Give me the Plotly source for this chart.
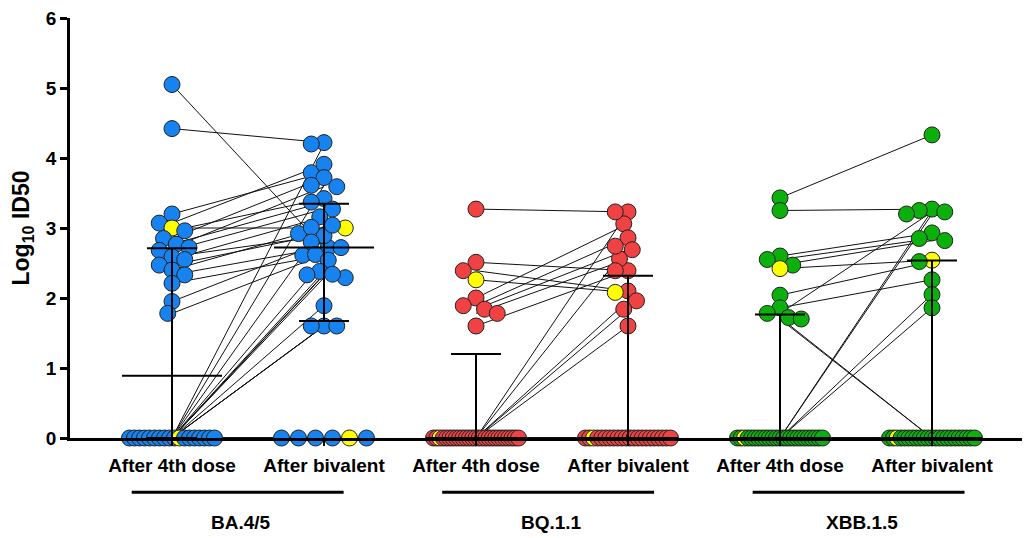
import math
import plotly.graph_objects as go

# ---------------- data ----------------
variants = ["BA.4/5", "BQ.1.1", "XBB.1.5"]
timepoints = ["After 4th dose", "After bivalent"]

# paired log10 ID50 values (same index = same participant)
ba45_4th = [5.05, 4.42, 3.20, 3.07, 3.00, 2.96, 2.85, 2.77, 2.72, 2.68, 2.59, 2.55,
            2.47, 2.40, 2.33, 2.21, 1.95, 1.78,
            0, 0, 0, 0, 0, 0, 0, 0, 0, 0, 0, 0, 0, 0, 0, 0, 0, 0]
ba45_biv = [2.72, 4.22, 3.79, 3.91, 3.00, 3.42, 3.72, 3.37, 3.59, 3.27, 2.89, 3.16,
            2.92, 3.01, 2.72, 2.61, 2.80, 2.62,
            4.20, 3.61, 3.04, 2.54, 2.38, 2.29, 0, 0, 0, 0, 0, 0,
            2.33, 2.34, 1.89, 1.60, 1.60, 1.60]
ba45_highlight = [4, 28]

bq11_4th = [3.27, 2.51, 2.39, 2.26, 2.00, 1.89, 1.84, 1.78, 1.60,
            0, 0, 0, 0, 0, 0, 0, 0, 0, 0, 0, 0, 0, 0, 0, 0, 0, 0,
            0, 0, 0, 0, 0, 0, 0, 0, 0]
bq11_biv = [3.23, 2.39, 2.10, 2.08, 3.06, 2.86, 2.69, 2.56, 2.39,
            0, 0, 0, 0, 0, 0, 0, 0, 0, 0, 0, 0, 0, 0, 0, 0, 0, 0,
            0, 0, 0, 0, 3.23, 2.74, 1.96, 1.84, 1.60]
bq11_highlight = [3, 11]

xbb15_4th = [3.43, 3.25, 2.60, 2.55, 2.47, 2.42, 2.04, 1.86, 1.78, 1.72, 1.70,
             0, 0, 0, 0, 0, 0, 0, 0, 0, 0, 0, 0, 0, 0, 0, 0, 0, 0,
             0, 0, 0, 0, 0, 0, 0]
xbb15_biv = [4.33, 3.27, 2.93, 2.85, 2.82, 2.54, 2.52, 2.26, 3.23, 0, 0,
             3.25, 3.20, 0, 2.05, 1.86,
             0, 0, 0, 0, 0, 0, 0, 0, 0, 0, 0, 0, 0, 0, 0, 0, 0, 0, 0, 0]
xbb15_highlight = [5, 13]

y_ticks = [0, 1, 2, 3, 4, 5, 6]
y_title = "Log<sub>10</sub> ID50"

groups = [
    (ba45_4th, ba45_biv, ba45_highlight),
    (bq11_4th, bq11_biv, bq11_highlight),
    (xbb15_4th, xbb15_biv, xbb15_highlight),
]

# ---------------- style / layout ----------------
W, H = 1025, 538
M_L, M_R, M_T, M_B = 70, 3, 18, 100
PX_X = 152.0          # pixels per category step
PX_Y = (H - M_T - M_B) / 6.0
X0_PX = 172.0         # pixel position of first category
x_min = (M_L - X0_PX) / PX_X
x_max = (W - M_R - X0_PX) / PX_X

colors = ["#1683F0", "#F04242", "#0CB00C"]
highlight_color = "#FFFF00"
DIAM = 16
STEP = 17.0
MIN_SEP = 12.5
HALF_W = 42.5
FONT = "Arial, Liberation Sans, sans-serif"


def gp_quantile(vals, p):
    s = sorted(vals)
    n = len(s)
    pos = p * (n + 1)
    if pos <= 1:
        return s[0]
    if pos >= n:
        return s[-1]
    k = int(math.floor(pos))
    f = pos - k
    return s[k - 1] + f * (s[k] - s[k - 1])


def swarm(vals):
    """Return x offsets (data units) for a compact beeswarm layout."""
    n = len(vals)
    offs = [0.0] * n
    zeros = [i for i, v in enumerate(vals) if v == 0]
    nz = len(zeros)
    if nz:
        if (nz - 1) * STEP <= 2 * HALF_W:
            pos = [(k - (nz - 1) / 2) * STEP for k in range(nz)]
        else:
            pos = [-HALF_W + k * (2 * HALF_W) / (nz - 1) for k in range(nz)]
        for i, p in zip(zeros, pos):
            offs[i] = p
    others = sorted([i for i, v in enumerate(vals) if v != 0], key=lambda i: -vals[i])
    cands = sorted([k * 4.25 for k in range(-10, 11)], key=lambda c: (abs(c), c))
    placed = []
    for i in others:
        y = vals[i] * PX_Y
        best, best_d = None, -1
        for c in cands:
            md = min([math.hypot(c - px, y - py) for px, py in placed] or [1e9])
            if md >= MIN_SEP:
                best = c
                break
            if md > best_d:
                best_d, best = md, c
        offs[i] = best
        placed.append((best, y))
    return [o / PX_X for o in offs]


fig = go.Figure()

# connecting lines
for g, (pre, post, hl) in enumerate(groups):
    xa, xb = 2 * g, 2 * g + 1
    lx, ly = [], []
    for a, b in zip(pre, post):
        lx += [xa, xb, None]
        ly += [a, b, None]
    fig.add_trace(go.Scatter(x=lx, y=ly, mode="lines",
                             line=dict(color="#111111", width=1),
                             hoverinfo="skip", showlegend=False, cliponaxis=False))

# points
for g, (pre, post, hl) in enumerate(groups):
    for t, vals in enumerate([pre, post]):
        xc = 2 * g + t
        offs = swarm(vals)
        cols = [highlight_color if i in hl else colors[g] for i in range(len(vals))]
        fig.add_trace(go.Scatter(
            x=[xc + o for o in offs], y=vals, mode="markers",
            marker=dict(size=DIAM, color=cols, line=dict(color="#222222", width=1)),
            showlegend=False, cliponaxis=False, hoverinfo="y"))

# median + interquartile range
MED_HW = 50 / PX_X
CAP_HW = 25 / PX_X
for g, (pre, post, hl) in enumerate(groups):
    for t, vals in enumerate([pre, post]):
        xc = 2 * g + t
        q1 = gp_quantile(vals, 0.25)
        md = gp_quantile(vals, 0.5)
        q3 = gp_quantile(vals, 0.75)
        ex = [xc - MED_HW, xc + MED_HW, None, xc, xc, None,
              xc - CAP_HW, xc + CAP_HW, None, xc - CAP_HW, xc + CAP_HW]
        ey = [md, md, None, q1, q3, None, q1, q1, None, q3, q3]
        fig.add_trace(go.Scatter(x=ex, y=ey, mode="lines",
                                 line=dict(color="black", width=2),
                                 hoverinfo="skip", showlegend=False, cliponaxis=False))

# group bars and labels
BAR_HW = 0.697
for g, name in enumerate(variants):
    cx = 0.432 + 2.0425 * g
    fig.add_shape(type="line", xref="x", yref="paper",
                  x0=cx - BAR_HW, x1=cx + BAR_HW, y0=-0.129, y1=-0.129,
                  line=dict(color="black", width=3))
    fig.add_annotation(x=cx + 0.02, y=-0.2, xref="x", yref="paper", text=name,
                       showarrow=False, yanchor="middle",
                       font=dict(family=FONT, size=19, color="black", weight="bold"))

tick_text = [timepoints[i % 2] for i in range(6)]
fig.update_layout(
    width=W, height=H,
    margin=dict(l=M_L, r=M_R, t=M_T, b=M_B),
    plot_bgcolor="white", paper_bgcolor="white",
    font=dict(family=FONT, color="black"),
    xaxis=dict(range=[x_min, x_max], tickvals=list(range(6)), ticktext=tick_text,
               showline=True, linecolor="black", linewidth=2.5,
               ticks="outside", ticklen=5, tickwidth=2, tickcolor="black",
               showgrid=False, zeroline=False, automargin=False,
               ticklabelstandoff=3,
               tickfont=dict(family=FONT, size=19, color="black", weight="bold")),
    yaxis=dict(range=[0, 6], tickvals=y_ticks,
               showline=True, linecolor="black", linewidth=2.5,
               ticks="outside", ticklen=7, tickwidth=2.5, tickcolor="black",
               showgrid=False, zeroline=False, automargin=False,
               tickfont=dict(family=FONT, size=19, color="black", weight="bold"),
               title=dict(text=y_title, standoff=10,
                          font=dict(family=FONT, size=23, color="black", weight="bold"))),
)

fig.write_html("out.html", config={"displayModeBar": False},
               post_script="document.body.style.margin='0';document.body.style.padding='0';")
